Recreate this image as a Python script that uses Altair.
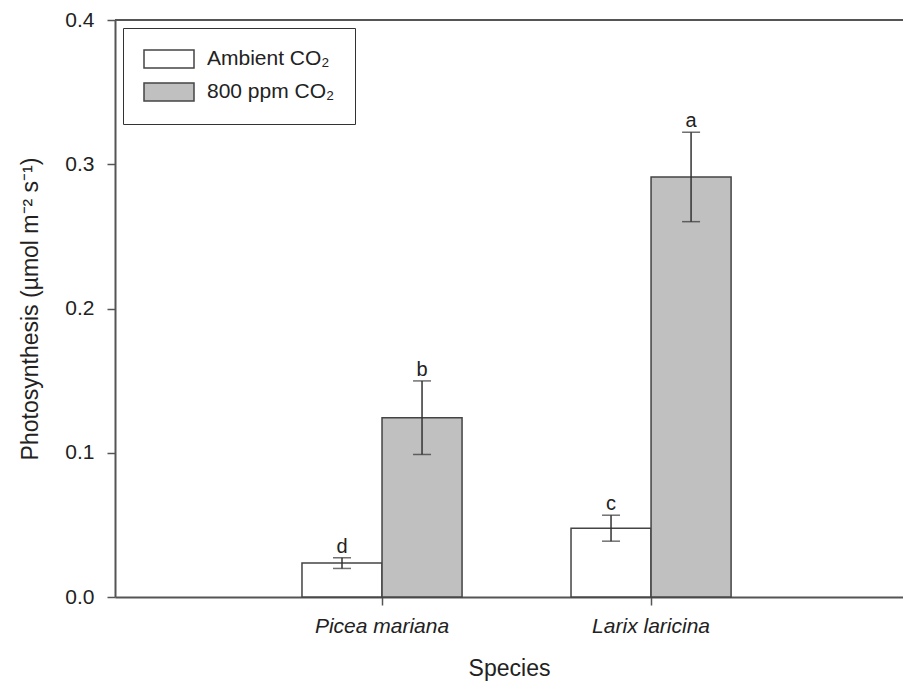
import altair as alt
import pandas as pd

species = ["Picea mariana", "Larix laricina"]
treatments = ["Ambient CO₂", "800 ppm CO₂"]
ambient_mean = [0.0235, 0.0477]
elevated_mean = [0.1243, 0.2912]
ambient_se = [0.0037, 0.009]
elevated_se = [0.0255, 0.031]
ambient_letters = ["d", "c"]
elevated_letters = ["b", "a"]

rows = []
for i, sp in enumerate(species):
    rows.append(dict(species=sp, treatment=treatments[0], mean=ambient_mean[i],
                     se=ambient_se[i], letter=ambient_letters[i]))
    rows.append(dict(species=sp, treatment=treatments[1], mean=elevated_mean[i],
                     se=elevated_se[i], letter=elevated_letters[i]))
df = pd.DataFrame(rows)
df["lo"] = df["mean"] - df["se"]
df["hi"] = df["mean"] + df["se"]

FONT = "Liberation Sans"
TXT = "#222222"
AX = "#555555"

x_enc = alt.X(
    "species:N", sort=species,
    scale=alt.Scale(paddingInner=0.405, paddingOuter=0.667, align=0.521),
    axis=alt.Axis(title="Species", labelAngle=0, labelFontStyle="italic",
                  labelFontSize=21, titleFontSize=23, labelFont=FONT, titleFont=FONT,
                  labelColor=TXT, titleColor=TXT, titleFontWeight="normal",
                  tickSize=8, tickColor=AX, tickWidth=1.5, domainColor=AX, domainWidth=2,
                  labelPadding=10, titlePadding=21),
)
xo_enc = alt.XOffset("treatment:N", sort=treatments,
                     scale=alt.Scale(paddingInner=0, paddingOuter=0))

y_axis = alt.Axis(values=[0, 0.1, 0.2, 0.3, 0.4], format=".1f",
                  title="Photosynthesis (µmol m⁻² s⁻¹)", titleFontSize=23,
                  labelFontSize=21, labelFont=FONT, titleFont=FONT,
                  labelColor=TXT, titleColor=TXT, titleFontWeight="normal",
                  tickSize=8, tickColor=AX, tickWidth=1.5, domainColor=AX, domainWidth=2,
                  grid=False, labelPadding=13, titlePadding=22)

base = alt.Chart(df)

bars = base.mark_bar(stroke="#444444", strokeWidth=1.5).encode(
    x=x_enc, xOffset=xo_enc,
    y=alt.Y("mean:Q", scale=alt.Scale(domain=[0, 0.4]), axis=y_axis),
    color=alt.Color("treatment:N", sort=treatments,
                    scale=alt.Scale(domain=treatments, range=["#ffffff", "#c0c0c0"]),
                    legend=alt.Legend(
                        title=None, orient="none", legendX=8, legendY=8,
                        symbolType="M-1,-0.9H4V0.9H-1Z", symbolSize=400,
                        symbolStrokeColor="#444444", symbolStrokeWidth=1.5,
                        labelFontSize=21, labelFont=FONT, labelColor=TXT,
                        labelOffset=42, strokeColor="#333333", fillColor="#ffffff",
                        padding=20, rowPadding=9)),
)

err = base.mark_rule(color="#333333", strokeWidth=1.5).encode(
    x=x_enc, xOffset=xo_enc, y="lo:Q", y2="hi:Q")
cap_hi = base.mark_tick(color="#333333", size=18, thickness=1.5).encode(
    x=x_enc, xOffset=xo_enc, y="hi:Q")
cap_lo = base.mark_tick(color="#333333", size=18, thickness=1.5).encode(
    x=x_enc, xOffset=xo_enc, y="lo:Q")
letters = base.mark_text(dy=-11, fontSize=20, font=FONT, color=TXT).encode(
    x=x_enc, xOffset=xo_enc, y="hi:Q", text="letter:N")

top = alt.Chart(pd.DataFrame({"k": [0]})).mark_rule(color=AX, strokeWidth=2).encode(
    y=alt.value(0), x=alt.value(0), x2=alt.value(788))

chart = alt.layer(bars, err, cap_hi, cap_lo, letters, top).properties(
    width=788, height=577,
    autosize=alt.AutoSizeParams(type="none"),
    padding={"left": 107, "top": 12, "right": 0, "bottom": 87},
).configure_view(stroke=None)

chart.save("out.html", embed_options={"renderer": "svg", "actions": False})
